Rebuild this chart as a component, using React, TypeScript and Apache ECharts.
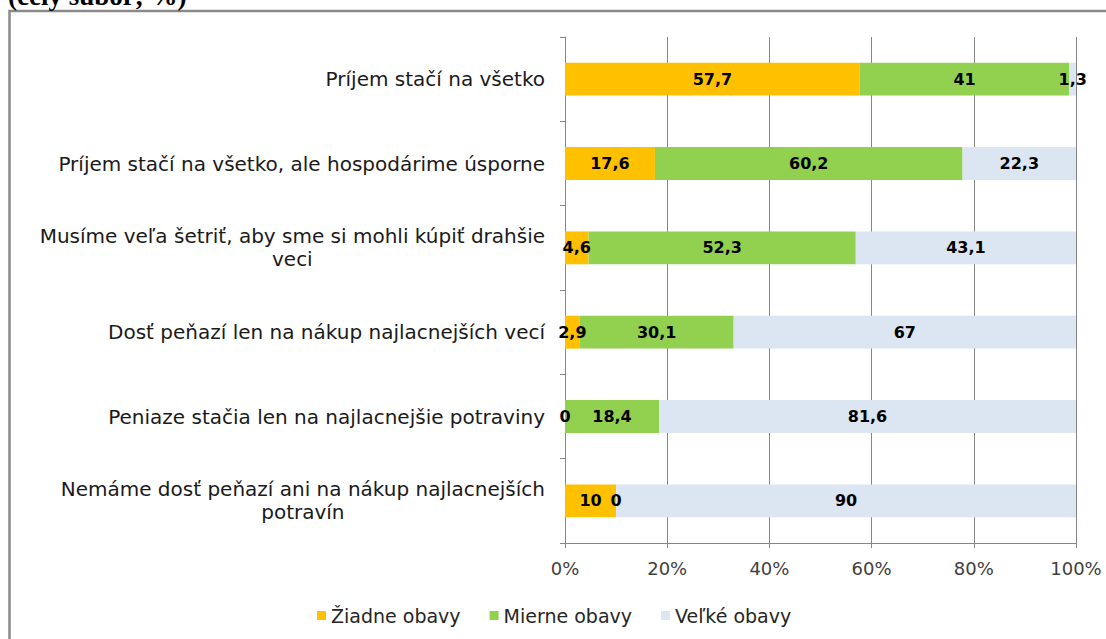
import React, { useEffect, useRef } from "react";
import * as echarts from "echarts";

const categories = [
  "Príjem stačí na všetko",
  "Príjem stačí na všetko, ale hospodárime úsporne",
  "Musíme veľa šetriť, aby sme si mohli kúpiť drahšie\nveci",
  "Dosť peňazí len na nákup najlacnejších vecí",
  "Peniaze stačia len na najlacnejšie potraviny",
  "Nemáme dosť peňazí ani na nákup najlacnejších\npotravín",
];
const seriesNames = ["Žiadne obavy", "Mierne obavy", "Veľké obavy"];
const ziadne = [57.7, 17.6, 4.6, 2.9, 0, 10];
const mierne = [41, 60.2, 52.3, 30.1, 18.4, 0];
const velke = [1.3, 22.3, 43.1, 67, 81.6, 90];
const colors = ["#FFC000", "#92D050", "#DCE6F2"];
const xTicks = [0, 20, 40, 60, 80, 100];
const titleText = "(celý súbor; %)";

export default function App() {
  const ref = useRef<HTMLDivElement>(null);
  useEffect(() => {
    document.body.style.margin = "0";
    const chart = echarts.init(ref.current!, undefined, { renderer: "svg" });
    const labelFont = "DejaVu Sans";
    const values = [ziadne, mierne, velke];
    chart.setOption({
      animation: false,
      backgroundColor: "#ffffff",
      grid: { left: 565, top: 37, width: 511, height: 506, containLabel: false },
      legend: {
        left: 312,
        top: 601,
        icon: "rect",
        itemWidth: 9,
        itemHeight: 9,
        itemGap: 29,
        textStyle: { fontFamily: labelFont, fontSize: 19, color: "#262626" },
        data: seriesNames,
      },
      xAxis: {
        type: "value",
        min: xTicks[0],
        max: xTicks[xTicks.length - 1],
        interval: 20,
        axisLine: { show: true, lineStyle: { color: "#868686" } },
        axisTick: { show: true, length: 5, lineStyle: { color: "#868686" } },
        splitLine: { show: true, lineStyle: { color: "#868686", width: 1 } },
        axisLabel: {
          formatter: "{value}%",
          fontFamily: labelFont,
          fontSize: 18,
          color: "#404040",
          margin: 16,
        },
      },
      yAxis: {
        type: "category",
        inverse: true,
        data: categories,
        axisLine: { show: true, lineStyle: { color: "#868686" } },
        axisTick: { show: true, length: 5, lineStyle: { color: "#868686" } },
        axisLabel: {
          margin: 20,
          align: "right",
          formatter: (v: string) =>
            v
              .split("\n")
              .map((l) => `{c|${l}}`)
              .join("\n"),
          rich: {
            c: {
              align: "center",
              fontFamily: labelFont,
              fontSize: 20,
              color: "#1a1a1a",
              lineHeight: 23,
            },
          },
        },
      },
      series: seriesNames.map((name, i) => ({
        name,
        type: "bar",
        stack: "total",
        barWidth: "39%",
        itemStyle: { color: colors[i] },
        label: {
          show: true,
          position: "inside",
          formatter: (p: any) => String(p.value).replace(".", ","),
          fontFamily: labelFont,
          fontWeight: "bold",
          fontSize: 16,
          color: "#000000",
        },
        data: values[i],
      })),
      graphic: [
        {
          type: "rect",
          z: -1,
          shape: { x: 9.5, y: 11, width: 1200, height: 800 },
          style: { fill: "none", stroke: "#8a8a8a", lineWidth: 2.5 },
          silent: true,
        },
        {
          type: "text",
          x: 8,
          y: 9,
          style: {
            text: titleText,
            font: "bold 27px 'Liberation Serif'",
            fill: "#000000",
            verticalAlign: "bottom",
          },
        },
      ],
    });
    return () => chart.dispose();
  }, []);
  return <div ref={ref} style={{ width: 1106, height: 639 }} />;
}
